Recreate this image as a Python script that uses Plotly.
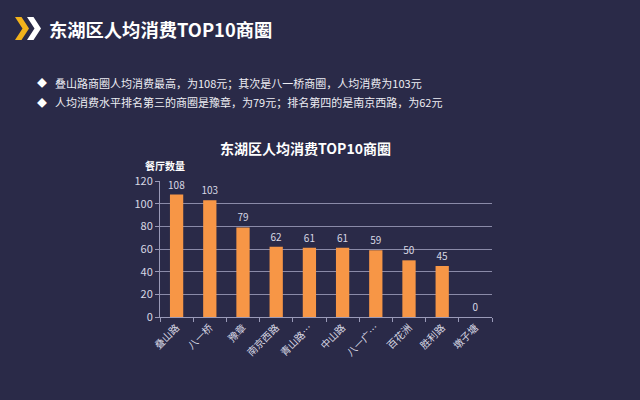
import plotly.graph_objects as go

categories = ["叠山路", "八一桥", "豫章", "南京西路", "青山路…", "中山路", "八一广…", "百花洲", "胜利路", "墩子塘"]
values = [108, 103, 79, 62, 61, 61, 59, 50, 45, 0]
y_ticks = [0, 20, 40, 60, 80, 100, 120]

page_title = "东湖区人均消费TOP10商圈"
bullets = [
    "叠山路商圈人均消费最高，为108元；其次是八一桥商圈，人均消费为103元",
    "人均消费水平排名第三的商圈是豫章，为79元；排名第四的是南京西路，为62元",
]
chart_title = "东湖区人均消费TOP10商圈"
y_title = "餐厅数量"

W, H = 640, 400
L, R, T, B = 160, 492, 181, 317
BG = "#2a2a48"
FONT = "Noto Sans CJK SC"


def px(x):
    return (x - L) / (R - L)


def py(y):
    return (B - y) / (B - T)


fig = go.Figure(
    go.Bar(
        x=categories,
        y=values,
        width=0.4,
        marker=dict(color="#F79646", line=dict(width=0)),
        text=[str(v) for v in values],
        textposition="outside",
        constraintext="none",
        textfont=dict(family=FONT, size=10, color="#d8d8e4"),
        cliponaxis=False,
    )
)


def poly(points):
    return "M " + " L ".join(f"{px(a)},{py(b)}" for a, b in points) + " Z"


shapes = [
    dict(type="path", xref="paper", yref="paper",
         path=poly([(15, 17), (21.5, 17), (29, 28.5), (21.5, 40), (15, 40), (22.5, 28.5)]),
         fillcolor="#f2b21c", line=dict(width=0)),
    dict(type="path", xref="paper", yref="paper",
         path=poly([(27, 17), (33.5, 17), (41, 28.5), (33.5, 40), (27, 40), (34.5, 28.5)]),
         fillcolor="#ffffff", line=dict(width=0)),
]

annotations = [
    dict(text=f"<b>{page_title}</b>", x=px(47), y=py(28.5), xref="paper", yref="paper",
         xanchor="left", yanchor="middle", showarrow=False,
         font=dict(family=FONT, size=18.3, color="#ffffff")),
    dict(text=f"<b>{chart_title}</b>", x=px(305), y=py(148), xref="paper", yref="paper",
         xanchor="center", yanchor="middle", showarrow=False,
         font=dict(family=FONT, size=14, color="#ffffff")),
    dict(text=f"<b>{y_title}</b>", x=px(143), y=py(165), xref="paper", yref="paper",
         xanchor="left", yanchor="middle", showarrow=False,
         font=dict(family=FONT, size=10, color="#ffffff")),
]
for i, line in enumerate(bullets):
    yy = 83 + i * 19
    annotations.append(dict(text="◆", x=px(42), y=py(yy), xref="paper", yref="paper",
                            xanchor="center", yanchor="middle", showarrow=False,
                            font=dict(family=FONT, size=10, color="#ffffff")))
    annotations.append(dict(text=line, x=px(53), y=py(yy), xref="paper", yref="paper",
                            xanchor="left", yanchor="middle", showarrow=False,
                            font=dict(family=FONT, size=11, color="#eeeef4")))

fig.update_layout(
    width=W, height=H,
    margin=dict(l=L, r=W - R, t=T, b=H - B, pad=0),
    paper_bgcolor=BG, plot_bgcolor=BG,
    showlegend=False,
    shapes=shapes,
    annotations=annotations,
    bargap=0.6,
    xaxis=dict(
        type="category", tickangle=-45, tickson="boundaries",
        ticks="outside", ticklen=4, tickcolor="#9a9ab8",
        showline=True, linecolor="#9a9ab8", linewidth=1,
        showgrid=False,
        tickfont=dict(family=FONT, size=10, color="#d8d8e4"),
    ),
    yaxis=dict(
        range=[0, 120], tickvals=y_ticks,
        ticks="outside", ticklen=4, tickcolor="#9a9ab8",
        showline=True, linecolor="#9a9ab8", linewidth=1,
        showgrid=True, gridcolor="#8a8aa8", gridwidth=1,
        zeroline=False,
        tickfont=dict(family=FONT, size=11, color="#d8d8e4"),
    ),
)

fig.write_html(
    "out.html",
    config={"displayModeBar": False},
    post_script="document.body.style.margin='0';document.body.style.background='" + BG + "';",
)
